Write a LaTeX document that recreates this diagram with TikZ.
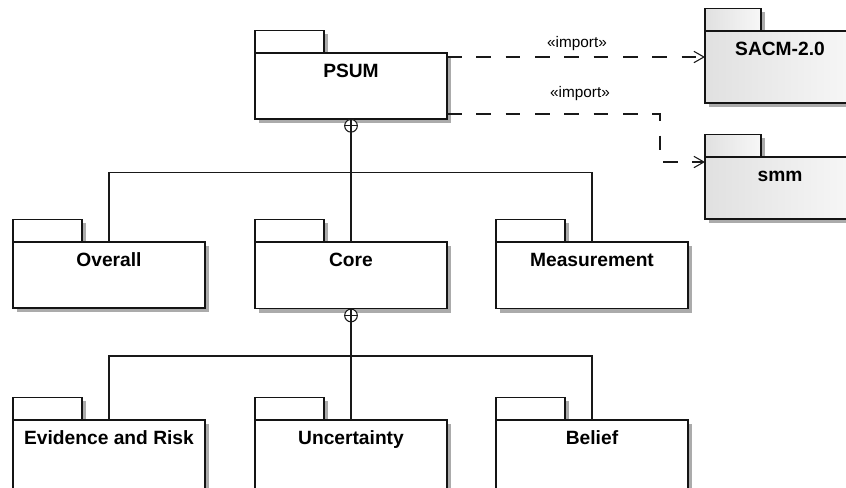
\documentclass[tikz,border=0pt]{standalone}
\usepackage{fontspec}
\setmainfont{Liberation Sans}
\usetikzlibrary{arrows.meta,shadows,calc}

% UML package: tab on top of a body, label near the top of the body
% #1 name, #2 x, #3 top of body, #4 body width, #5 body height,
% #6 tab width, #7 extra style, #8 label
\newcommand\umlpkg[8]{%
  \node[pkgpart,#7,anchor=south west,minimum width=#6,minimum height=17pt] (#1-tab) at (#2,#3) {};
  \node[pkgpart,#7,anchor=north west,minimum width=#4,minimum height=#5] (#1) at (#2,#3) {};
  \node[pkglabel,anchor=base] (#1-label) at ($(#1.north)+(0,24)$) {#8};
}

\begin{document}
\begin{tikzpicture}[x=0.75pt,y=-0.75pt,
  pkgpart/.style={draw=black!92,line width=0.9pt,fill=white,inner sep=0pt,outer sep=0pt,
    drop shadow={shadow xshift=3pt,shadow yshift=-3pt,fill=black!33,opacity=1}},
  extpkg/.style={left color=black!12,right color=black!3},
  pkglabel/.style={font=\fontsize{14.4pt}{16pt}\selectfont\bfseries,inner sep=0pt},
  deplabel/.style={font=\fontsize{11.5pt}{13pt}\selectfont,inner sep=0pt},
  tree/.style={draw=black!90,line width=0.8pt},
  nest/.style={circle,draw=black!90,line width=0.8pt,fill=white,minimum size=9.5pt,inner sep=0pt},
  dep/.style={draw=black!90,line width=0.8pt,dash pattern=on 11pt off 11pt,
    -{Straight Barb[length=7.5pt,width=8.5pt,line width=0.8pt]}},
]
\useasboundingbox (0,0) rectangle (846,487);
\clip (0,0) rectangle (846,487);

% top level package and imported packages
\umlpkg{psum}{255}{53}{144pt}{49.5pt}{51.75pt}{}{PSUM}
\umlpkg{sacm}{705}{31}{112.5pt}{54pt}{42pt}{extpkg}{SACM-2.0}
\umlpkg{smm}{705}{157}{112.5pt}{46.5pt}{42pt}{extpkg}{smm}

% second level
\umlpkg{overall}{13}{242}{144pt}{49.5pt}{51.75pt}{}{Overall}
\umlpkg{core}{255}{242}{144pt}{50pt}{51.75pt}{}{Core}
\umlpkg{meas}{496}{242}{144pt}{50pt}{51.75pt}{}{Measurement}

% third level
\umlpkg{evid}{13}{420}{144pt}{70pt}{51.75pt}{}{Evidence and Risk}
\umlpkg{unc}{255}{420}{144pt}{70pt}{51.75pt}{}{Uncertainty}
\umlpkg{bel}{496}{420}{144pt}{70pt}{51.75pt}{}{Belief}

% containment of PSUM
\node[nest] (psum-x) at ($(psum.south)+(0,6.8)$) {};
\draw[tree] (psum-x.north) -- (psum-x.south) (psum-x.west) -- (psum-x.east);
\coordinate (bar1) at ($(psum-x.center)+(0,47)$);
\draw[tree] (psum-x.south) -- (core.north);
\draw[tree] (overall.north) |- (bar1) -| (meas.north);

% containment of Core
\node[nest] (core-x) at ($(core.south)+(0,6.8)$) {};
\draw[tree] (core-x.north) -- (core-x.south) (core-x.west) -- (core-x.east);
\coordinate (bar2) at ($(core-x.center)+(0,40.5)$);
\draw[tree] (core-x.south) -- (unc.north);
\draw[tree] (evid.north) |- (bar2) -| (bel.north);

% imports
\coordinate (d1) at ($(psum.north east)+(0,4)$);
\draw[dep] (d1) -- (sacm.west |- d1);
\node[deplabel,anchor=base] (imp1) at (577,47) {«import»};

\coordinate (d2) at ($(psum.south east)+(0,-5)$);
\coordinate (s2) at ($(smm.north west)+(0,5)$);
\draw[dep] (d2) -| ($(s2)+(-45,0)$) -- (s2);
\node[deplabel,anchor=base] (imp2) at (580,97) {«import»};
\end{tikzpicture}
\end{document}
